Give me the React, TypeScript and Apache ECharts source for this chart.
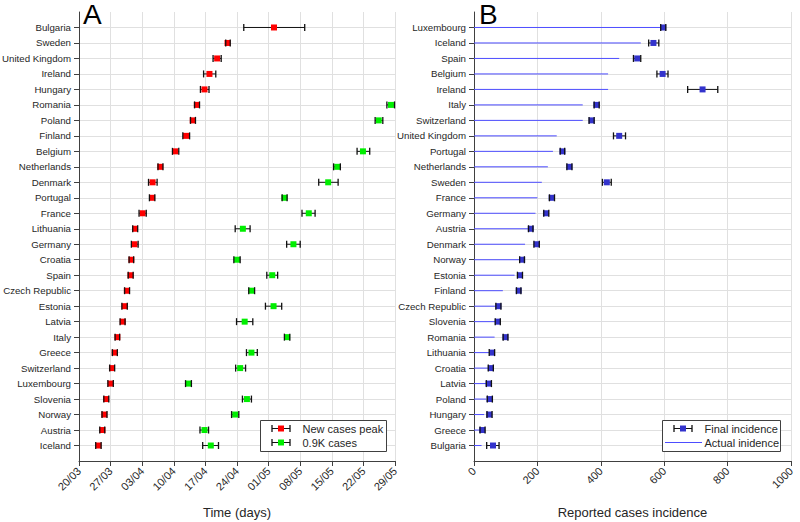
import React, { useEffect, useRef } from "react";
import * as echarts from "echarts";

// ---------- Panel A: dates (days counted from 20/03) ----------
const countriesA = [
  "Bulgaria", "Sweden", "United Kingdom", "Ireland", "Hungary", "Romania", "Poland",
  "Finland", "Belgium", "Netherlands", "Denmark", "Portugal", "France", "Lithuania",
  "Germany", "Croatia", "Spain", "Czech Republic", "Estonia", "Latvia", "Italy",
  "Greece", "Switzerland", "Luxembourg", "Slovenia", "Norway", "Austria", "Iceland",
];
const peakDay = [43.2, 32.9, 30.6, 28.9, 27.8, 26.1, 25.2, 23.7, 21.3, 18.0, 16.3, 16.2, 14.1, 12.4, 12.3, 11.6, 11.4, 10.6, 10.1, 9.7, 8.5, 7.9, 7.3, 7.0, 6.0, 5.6, 5.2, 4.3];
const peakLow = [36.5, 32.5, 29.7, 27.6, 26.9, 25.6, 24.7, 23.0, 20.7, 17.5, 15.4, 15.6, 13.3, 11.9, 11.6, 11.1, 10.9, 10.1, 9.5, 9.1, 8.0, 7.4, 6.8, 6.4, 5.5, 5.1, 4.6, 3.7];
const peakHigh = [50.0, 33.5, 31.5, 30.3, 28.8, 26.7, 25.8, 24.5, 22.1, 18.6, 17.3, 16.8, 14.9, 13.0, 13.1, 12.1, 12.0, 11.2, 10.7, 10.2, 9.0, 8.5, 7.9, 7.6, 6.6, 6.2, 5.7, 4.9];
const k09Day = [null, null, null, null, null, 69.1, 66.4, null, 62.9, 57.2, 55.2, 45.5, 50.9, 36.3, 47.5, 35.0, 42.8, 38.2, 43.1, 36.7, 46.1, 38.2, 35.7, 24.3, 37.2, 34.6, 27.8, 29.2];
const k09Low = [null, null, null, null, null, 68.2, 65.6, null, 61.6, 56.4, 53.1, 45.0, 49.4, 34.6, 46.0, 34.3, 41.6, 37.6, 41.3, 34.9, 45.5, 37.1, 34.7, 23.6, 36.2, 33.8, 26.8, 27.4];
const k09High = [null, null, null, null, null, 69.9, 67.3, null, 64.4, 57.9, 57.4, 46.1, 52.3, 37.9, 49.0, 35.7, 44.0, 38.9, 44.9, 38.5, 46.7, 39.5, 36.9, 24.9, 38.2, 35.4, 28.7, 30.9];
const dateTicks = ["20/03", "27/03", "03/04", "10/04", "17/04", "24/04", "01/05", "08/05", "15/05", "22/05", "29/05"];

// ---------- Panel B: incidence ----------
const countriesB = [
  "Luxembourg", "Iceland", "Spain", "Belgium", "Ireland", "Italy", "Switzerland",
  "United Kingdom", "Portugal", "Netherlands", "Sweden", "France", "Germany", "Austria",
  "Denmark", "Norway", "Estonia", "Finland", "Czech Republic", "Slovenia", "Romania",
  "Lithuania", "Croatia", "Latvia", "Poland", "Hungary", "Greece", "Bulgaria",
];
const finalInc = [597, 566, 515, 595, 721, 386, 371, 458, 279, 301, 419, 245, 227, 179, 198, 152, 145, 141, 77, 75, 99, 57, 53, 46, 49, 48, 26, 60];
const finalLow = [589, 551, 503, 577, 674, 379, 363, 440, 272, 293, 405, 238, 220, 172, 189, 144, 137, 134, 69, 67, 92, 48, 45, 39, 42, 41, 19, 40];
const finalHigh = [605, 583, 526, 612, 769, 395, 379, 478, 286, 309, 433, 254, 236, 186, 206, 159, 153, 148, 85, 83, 107, 65, 61, 55, 58, 57, 35, 79];
const actualInc = [593, 526, 458, 423, 423, 343, 343, 261, 249, 233, 214, 200, 194, 172, 161, 143, 128, 91, 72, 67, 65, 48, 48, 38, 38, 32, 19, 24];

const FONT = "'Liberation Sans', Arial, Helvetica, sans-serif";
const TXT = "#262626";
const AXIS = "#404040";
const GRIDC = "#e0e0e0";
const ERR = "#111111";
const LZ = 100;

function errorBar(color: string) {
  return (params: any, api: any) => {
    const row = api.value(3);
    const lo = api.coord([api.value(0), row]);
    const mid = api.coord([api.value(1), row]);
    const hi = api.coord([api.value(2), row]);
    const cap = 3.5;
    const ls = { stroke: ERR, lineWidth: 1 };
    return {
      type: "group",
      children: [
        { type: "line", shape: { x1: lo[0], y1: lo[1], x2: hi[0], y2: hi[1] }, style: ls },
        { type: "rect", shape: { x: mid[0] - 3, y: mid[1] - 3, width: 6, height: 6 }, style: { fill: color } },
        { type: "line", shape: { x1: lo[0], y1: lo[1] - cap, x2: lo[0], y2: lo[1] + cap }, style: { stroke: ERR, lineWidth: 1.3 } },
        { type: "line", shape: { x1: hi[0], y1: hi[1] - cap, x2: hi[0], y2: hi[1] + cap }, style: { stroke: ERR, lineWidth: 1.3 } },
      ],
    };
  };
}

function catAxis(names: string[], gridIndex: number) {
  const cats = ["", ...names, ""];
  const keep = (_i: number, v: string) => v !== "";
  return {
    type: "category",
    gridIndex,
    data: cats,
    inverse: true,
    boundaryGap: false,
    axisLine: { show: true, lineStyle: { color: AXIS, width: 1 } },
    axisTick: { show: true, interval: keep, length: 5, lineStyle: { color: AXIS } },
    axisLabel: { interval: 0, margin: 8, fontSize: 9.7, color: TXT, fontFamily: FONT },
    splitLine: { show: true, interval: keep, lineStyle: { color: GRIDC, width: 1 } },
  };
}

function legendRow(x: number, y: number, color: string, lineOnly = false, symW = 18) {
  const items: any[] = [];
  if (lineOnly) {
    items.push({ type: "line", z: LZ + 1, shape: { x1: x, y1: y, x2: x + symW, y2: y }, style: { stroke: color, lineWidth: 1 } });
  } else {
    const mx = x + symW / 2;
    items.push({ type: "line", z: LZ + 1, shape: { x1: x, y1: y, x2: x + symW, y2: y }, style: { stroke: ERR, lineWidth: 1 } });
    items.push({ type: "rect", z: LZ + 2, shape: { x: mx - 3, y: y - 3, width: 6, height: 6 }, style: { fill: color } });
    items.push({ type: "line", z: LZ + 3, shape: { x1: x, y1: y - 3.5, x2: x, y2: y + 3.5 }, style: { stroke: ERR, lineWidth: 1.3 } });
    items.push({ type: "line", z: LZ + 3, shape: { x1: x + symW, y1: y - 3.5, x2: x + symW, y2: y + 3.5 }, style: { stroke: ERR, lineWidth: 1.3 } });
  }
  return items;
}

function legendText(x: number, y: number, text: string) {
  return { type: "text", z: LZ + 1, x, y, style: { text, fontSize: 11, fontFamily: FONT, fill: TXT, verticalAlign: "middle" } };
}

export default function App() {
  const ref = useRef<HTMLDivElement>(null);
  useEffect(() => {
    if (!ref.current) return;
    const chart = echarts.init(ref.current, null, { renderer: "svg" });

    const peakData = countriesA.map((_, i) => [peakLow[i], peakDay[i], peakHigh[i], i + 1]);
    const k09Data: any[] = [];
    countriesA.forEach((_, i) => {
      if (k09Day[i] != null) k09Data.push([k09Low[i], k09Day[i], k09High[i], i + 1]);
    });
    const finalData = countriesB.map((_, i) => [finalLow[i], finalInc[i], finalHigh[i], i + 1]);
    const actualData = countriesB.map((_, i) => [actualInc[i], i + 1]);

    const xCommon = {
      axisLine: { show: true, onZero: false, lineStyle: { color: AXIS, width: 1 } },
      axisTick: { show: true, length: 5, lineStyle: { color: AXIS } },
      splitLine: { show: true, lineStyle: { color: GRIDC, width: 1 } },
      nameLocation: "middle",
      nameGap: 45,
      nameTextStyle: { fontSize: 13, color: TXT, fontFamily: FONT },
    };

    const option: any = {
      animation: false,
      backgroundColor: "#ffffff",
      textStyle: { fontFamily: FONT },
      grid: [
        { left: 79, right: 405, top: 12, bottom: 61, containLabel: false, outerBoundsMode: "none" },
        { left: 474, right: 9, top: 12, bottom: 61, containLabel: false, outerBoundsMode: "none" },
      ],
      xAxis: [
        {
          ...xCommon,
          type: "value",
          gridIndex: 0,
          min: 0,
          max: 70,
          interval: 7,
          name: "Time (days)",
          axisLabel: {
            rotate: 45, fontSize: 11, color: TXT, fontFamily: FONT, margin: 8,
            formatter: (v: number) => dateTicks[Math.round(v / 7)] ?? "",
          },
        },
        {
          ...xCommon,
          type: "value",
          gridIndex: 1,
          min: 0,
          max: 1000,
          interval: 200,
          name: "Reported cases incidence",
          axisLabel: {
            rotate: 45, fontSize: 11, color: TXT, fontFamily: FONT, margin: 8,
            formatter: (v: number) => String(v),
          },
        },
      ],
      yAxis: [catAxis(countriesA, 0), catAxis(countriesB, 1)],
      series: [
        {
          type: "custom", name: "New cases peak", xAxisIndex: 0, yAxisIndex: 0,
          data: peakData, encode: { x: [0, 1, 2], y: 3 }, renderItem: errorBar("#ff0000"), z: 3,
        },
        {
          type: "custom", name: "0.9K cases", xAxisIndex: 0, yAxisIndex: 0,
          data: k09Data, encode: { x: [0, 1, 2], y: 3 }, renderItem: errorBar("#00ee00"), z: 3,
        },
        {
          type: "custom", name: "Actual inidence", xAxisIndex: 1, yAxisIndex: 1,
          data: actualData, encode: { x: 0, y: 1 }, z: 2,
          renderItem: (params: any, api: any) => {
            const row = api.value(1);
            const a = api.coord([0, row]);
            const b = api.coord([api.value(0), row]);
            return { type: "line", shape: { x1: a[0], y1: a[1], x2: b[0], y2: b[1] }, style: { stroke: "#4d4dff", lineWidth: 1 } };
          },
        },
        {
          type: "custom", name: "Final incidence", xAxisIndex: 1, yAxisIndex: 1,
          data: finalData, encode: { x: [0, 1, 2], y: 3 }, renderItem: errorBar("#3333cc"), z: 3,
        },
      ],
      graphic: [
        { type: "text", left: 83, top: 0, z: LZ, style: { text: "A", fontSize: 28, fontFamily: FONT, fill: "#000" } },
        { type: "text", left: 479, top: 0, z: LZ, style: { text: "B", fontSize: 28, fontFamily: FONT, fill: "#000" } },
        { type: "rect", z: LZ, shape: { x: 260.5, y: 420.5, width: 126, height: 31 }, style: { fill: "#fff", stroke: AXIS, lineWidth: 1 } },
        ...legendRow(272, 428.5, "#ff0000"),
        ...legendRow(272, 442.5, "#00ee00"),
        legendText(302.5, 428.5, "New cases peak"),
        legendText(302.5, 442.5, "0.9K cases"),
        { type: "rect", z: LZ, shape: { x: 662.5, y: 420.5, width: 118, height: 31 }, style: { fill: "#fff", stroke: AXIS, lineWidth: 1 } },
        ...legendRow(674, 428.5, "#3333cc"),
        ...legendRow(665, 442.5, "#4d4dff", true, 37),
        legendText(704.5, 428.5, "Final incidence"),
        legendText(704.5, 442.5, "Actual inidence"),
      ],
    };
    chart.setOption(option);
    return () => chart.dispose();
  }, []);
  return <div ref={ref} style={{ position: "absolute", left: 0, top: 0, width: 800, height: 522 }} />;
}
